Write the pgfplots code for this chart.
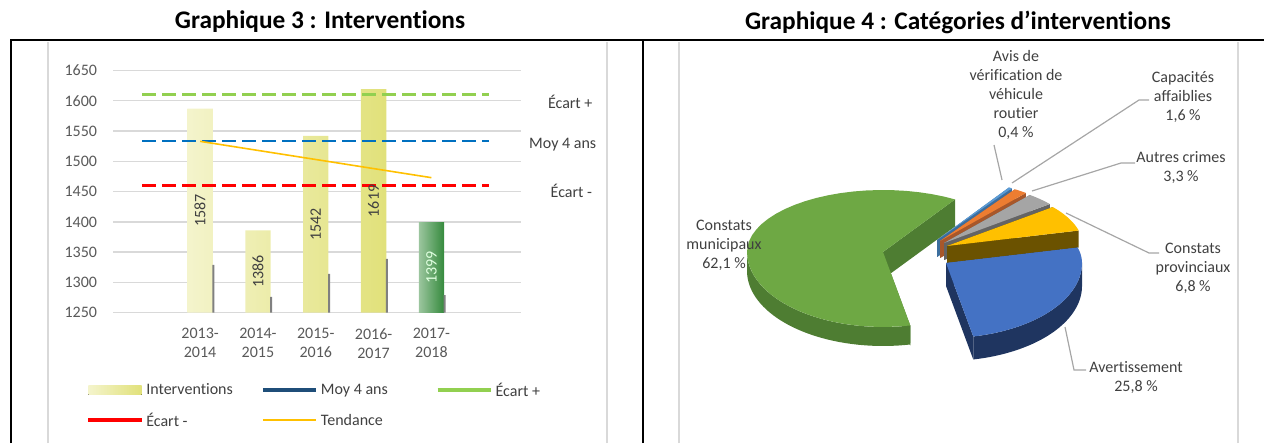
\documentclass[border=0pt]{standalone}
\usepackage{fontspec}
\setmainfont{Carlito}[Ligatures=NoCommon]
\usepackage{pgfplots}
\pgfplotsset{compat=1.18}
\definecolor{gridc}{HTML}{D9D9D9}
\definecolor{txt}{HTML}{404040}
\definecolor{tickc}{HTML}{595959}
\definecolor{barmain}{HTML}{E1E17A}
\definecolor{barlight}{HTML}{F4F4CC}
\definecolor{gdark}{HTML}{358A3D}
\definecolor{glight}{HTML}{9CC69F}
\definecolor{ecartp}{HTML}{92D050}
\definecolor{moy}{HTML}{0070C0}
\definecolor{moyleg}{HTML}{1F4E79}
\definecolor{ecartm}{HTML}{FF0000}
\definecolor{tend}{HTML}{FFC000}
\definecolor{shadowc}{HTML}{808080}
\definecolor{lead}{HTML}{A6A6A6}
\definecolor{pAvisT}{HTML}{5B9BD5}\definecolor{pAvisS}{HTML}{3C6E9E}
\definecolor{pCapT}{HTML}{ED7D31}\definecolor{pCapS}{HTML}{A8572A}
\definecolor{pAutT}{HTML}{A5A5A5}\definecolor{pAutS}{HTML}{646464}
\definecolor{pProT}{HTML}{FFC000}\definecolor{pProS}{HTML}{6B5200}
\definecolor{pAveT}{HTML}{4472C4}\definecolor{pAveS}{HTML}{1F3560}
\definecolor{pMunT}{HTML}{6EA844}\definecolor{pMunS}{HTML}{4E7D32}
% ellipse half-height: back 62, front 75 (image px)
\newcommand\pieB[1]{(62*(sin(#1)>0)+75*(sin(#1)<=0))}
\newcommand\topT[2]{((#1)+min(max(x,0),1)*((#2)-(#1)))}
\newcommand\rimT[2]{((x<=1)*((#1)+x*((#2)-(#1)))+(x>1)*((#2)-(x-1)*((#2)-(#1))))}
% top face: lo, hi, apex x, apex y(img), colour
\newcommand\pietop[5]{%
  \addplot[fill=#5, draw=none, forget plot, samples at={-1,0,0.025,...,0.99,1,2}]
   ({#3+(x>-0.5)*(x<1.5)*136*cos(\topT{#1}{#2})},
    {443-#4+(x>-0.5)*(x<1.5)*\pieB{\topT{#1}{#2}}*sin(\topT{#1}{#2})});
}
% front rim: lo, hi, apex x, apex y(img), depth, colour
\newcommand\pierim[6]{%
  \addplot[fill=#6, draw=none, forget plot, samples at={0,0.025,...,0.99,1,1.0001,1.025,...,1.99,2}]
   ({#3+136*cos(\rimT{#1}{#2})},
    {443-#4+75*sin(\rimT{#1}{#2})-#5*(x>1)});
}
% radial wall: angle, apex x, apex y(img), depth, colour
\newcommand\piewall[5]{%
  \addplot[fill=#5, draw=none, forget plot, samples at={0,1,2,3}]
   ({#2+(x>0.5)*(x<2.5)*136*cos(#1)},
    {443-#3+(x>0.5)*(x<2.5)*\pieB{#1}*sin(#1)-#4*(x>1.5)});
}
\newcommand\tfont{\fontsize{12}{14.25}\selectfont}
\begin{document}
\begin{tikzpicture}
\useasboundingbox (0pt,0pt) rectangle (948pt,332.25pt);
% frame
\draw[gridc, line width=0.9pt] (36pt,0pt) -- (36pt,301pt);
\draw[gridc, line width=0.9pt] (455.25pt,0pt) -- (455.25pt,301pt);
\draw[gridc, line width=0.9pt] (509.25pt,0pt) -- (509.25pt,301pt);
\draw[gridc, line width=0.9pt] (928.5pt,0pt) -- (928.5pt,301pt);
\draw[black, line width=1.5pt] (8.25pt,0pt) -- (8.25pt,302.25pt) -- (948pt,302.25pt);
\draw[black, line width=1.5pt] (482.25pt,0pt) -- (482.25pt,302.25pt);
% titles
\node[font=\fontsize{19}{23}\selectfont\bfseries] at (240pt,315.75pt) {Graphique 3 : Interventions};
\node[font=\fontsize{19}{23}\selectfont\bfseries] at (718.5pt,315.75pt) {Graphique 4 : Catégories d’interventions};

% ---------- bar chart ----------
\begin{axis}[
  at={(85pt,97.7pt)}, anchor=south west, scale only axis,
  width=305.8pt, height=181.7pt,
  xmin=-1.5, xmax=5.55, ymin=1250, ymax=1650,
  ytick={1250,1300,...,1650},
  xtick={0,1,2,3,4},
  xticklabels={{2013-\\2014},{2014-\\2015},{2015-\\2016},{2016-\\2017},{2017-\\2018}},
  axis line style={draw=none}, tick style={draw=none}, major tick length=0pt,
  ymajorgrids, grid style={gridc, line width=1.1pt},
  tick label style={font=\tfont, text=tickc},
  /pgf/number format/assume math mode=true,
  /pgf/number format/1000 sep={},
  yticklabel style={inner sep=0pt, xshift=-12pt},
  xticklabel style={align=center, inner sep=0pt, yshift=-11.5pt},
  clip mode=individual,
  legend columns=3,
  legend cell align=left,
  legend style={at={(axis description cs:-0.067,-0.277)}, anchor=north west,
    draw=none, fill=none, font=\tfont, inner sep=0pt, row sep=7pt, column sep=0pt},
]
\addplot[ybar, bar width=0.438, bar shift=0pt, draw=none,
  left color=barlight, middle color=barmain, right color=barmain,
  legend image code/.code={\fill[left color=barlight, right color=barmain, draw=none] (0pt,-3.4pt) rectangle (40pt,3.4pt);}]
  coordinates {(0,1587) (1,1386) (2,1542) (3,1619)};
\addlegendentry{\makebox[84pt][l]{\textcolor{txt}{Interventions}}}
\addplot[ybar, bar width=0.438, bar shift=0pt, draw=none, forget plot,
  left color=glight, middle color=gdark, right color=gdark]
  coordinates {(4,1399)};
\addplot[ybar, bar width=1.5pt, bar shift=0pt, draw=none, fill=shadowc, forget plot]
  coordinates {(0.23,1329) (1.23,1276) (2.23,1314) (3.23,1339) (4.23,1279)};
\addplot[moy, line width=1.8pt, dash pattern=on 10pt off 5pt,
  legend image code/.code={\draw[moyleg, solid, line width=3pt] (0pt,0pt) -- (40pt,0pt);}]
  coordinates {(-1,1533.5) (5,1533.5)};
\addlegendentry{\makebox[84pt][l]{\textcolor{txt}{Moy 4 ans}}}
\addplot[ecartp, line width=1.8pt, dash pattern=on 10pt off 5pt,
  legend image code/.code={\draw[ecartp, solid, line width=3pt] (0pt,0pt) -- (40pt,0pt);}]
  coordinates {(-1,1610) (5,1610)};
\addlegendentry{\makebox[84pt][l]{\textcolor{txt}{Écart +}}}
\addplot[ecartm, line width=1.8pt, dash pattern=on 10pt off 5pt,
  legend image code/.code={\draw[ecartm, solid, line width=3pt] (0pt,0pt) -- (40pt,0pt);}]
  coordinates {(-1,1460) (5,1460)};
\addlegendentry{\makebox[84pt][l]{\textcolor{txt}{Écart -}}}
\addplot[tend, line width=1.2pt,
  legend image code/.code={\draw[tend, solid, line width=1.5pt] (0pt,0pt) -- (40pt,0pt);}]
  coordinates {(0,1533) (4,1473)};
\addlegendentry{\makebox[84pt][l]{\textcolor{txt}{Tendance}}}
% data labels, centred in bars
\addplot[only marks, mark options={draw=none, fill=none}, forget plot,
  nodes near coords, point meta=explicit symbolic,
  every node near coord/.style={rotate=90, anchor=center, font=\tfont, text=txt}]
  coordinates {(0,1418.5)[1587] (1,1318)[1386] (2,1396)[1542] (3,1434.5)[1619]};
\addplot[only marks, mark options={draw=none, fill=none}, forget plot,
  nodes near coords, point meta=explicit symbolic,
  every node near coord/.style={rotate=90, anchor=center, font=\tfont, text=white!88!green}]
  coordinates {(4,1324.5)[1399]};
\node[font=\tfont, text=txt] at (axis cs:6.4,1598) {Écart +};
\node[font=\tfont, text=txt] at (axis cs:6.27,1527) {Moy 4 ans};
\node[font=\tfont, text=txt] at (axis cs:6.42,1452) {Écart -};
\end{axis}

% ---------- pie chart (axis in image pixels) ----------
\begin{axis}[
  at={(0pt,0pt)}, anchor=south west, scale only axis,
  width=948pt, height=332.25pt,
  xmin=0, xmax=1264, ymin=0, ymax=443, hide axis, clip=false]
% Avis 0,4
\piewall{58-3.6*0.4}{937}{240}{17}{pAvisS}
\piewall{58}{937}{240}{17}{pAvisS}
\pietop{58-3.6*0.4}{58}{937}{240}{pAvisT}
% Capacites 1,6
\piewall{58-3.6*2.0}{940}{241}{17}{pCapS}
\piewall{58-3.6*0.4}{940}{241}{17}{pCapS}
\pietop{58-3.6*2.0}{58-3.6*0.4}{940}{241}{pCapT}
% Autres 3,3
\piewall{58-3.6*5.3}{944}{243}{17}{pAutS}
\piewall{58-3.6*2.0}{944}{243}{17}{pAutS}
\pietop{58-3.6*5.3}{58-3.6*2.0}{944}{243}{pAutT}
% Provinciaux 6,8
\piewall{58-3.6*12.1}{947}{246}{17}{pProS}
\piewall{58-3.6*5.3}{947}{246}{17}{pProS}
\pietop{58-3.6*12.1}{58-3.6*5.3}{947}{246}{pProT}
% Municipaux 62,1
\piewall{58}{883}{252}{27}{pMunS}
\piewall{58+3.6*62.1}{883}{252}{20}{pMunS}
\pierim{180}{58+3.6*62.1}{883}{252}{19}{pMunS}
\pietop{58}{58+3.6*62.1}{883}{252}{pMunT}
% Avertissement 25,8
\piewall{58-3.6*37.9}{946}{263}{23}{pAveS}
\piewall{58-3.6*12.1}{946}{263}{23}{pAveS}
\pierim{58-3.6*37.9}{0}{946}{263}{23}{pAveS}
\pietop{58-3.6*37.9}{58-3.6*12.1}{946}{263}{pAveT}
% leader lines
\addplot[lead, line width=0.9pt, forget plot] coordinates {(994,298) (1002,263)};
\addplot[lead, line width=0.9pt, forget plot] coordinates {(1012,260) (1139,343) (1149,343)};
\addplot[lead, line width=0.9pt, forget plot] coordinates {(1032,252) (1121,280) (1135,280)};
\addplot[lead, line width=0.9pt, forget plot] coordinates {(1066,230) (1149,190) (1159,190)};
\addplot[lead, line width=0.9pt, forget plot] coordinates {(1065,116) (1074,73) (1086,73)};
% labels
\node[font=\tfont, text=txt, align=center] at (axis cs:1016,348) {Avis de\\vérification de\\véhicule\\routier\\0,4~\%};
\node[font=\tfont, text=txt, align=center] at (axis cs:1183,346) {Capacités\\affaiblies\\1,6~\%};
\node[font=\tfont, text=txt, align=center] at (axis cs:1181,275) {Autres crimes\\3,3~\%};
\node[font=\tfont, text=txt, align=center] at (axis cs:1193,175) {Constats\\provinciaux\\6,8~\%};
\node[font=\tfont, text=txt, align=center] at (axis cs:1136,65.5) {Avertissement\\25,8~\%};
\node[font=\tfont, text=txt, align=center] at (axis cs:724,198) {Constats\\municipaux\\62,1~\%};
\end{axis}
\end{tikzpicture}
\end{document}
